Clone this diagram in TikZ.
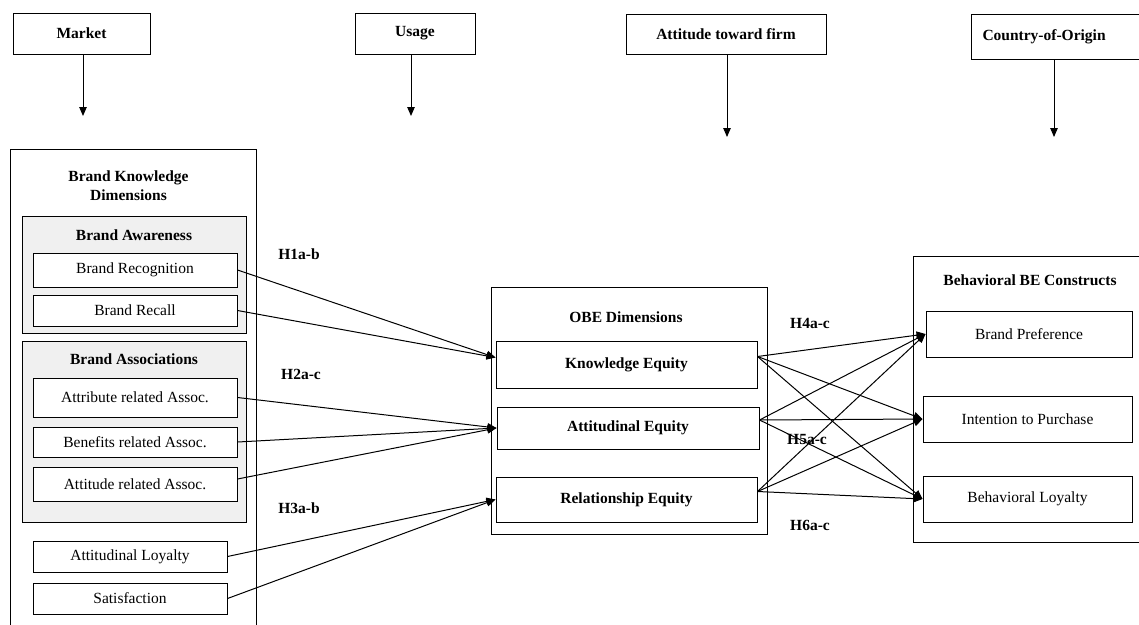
\documentclass[tikz,border=0pt]{standalone}
\usepackage{fontspec}
\setmainfont{Liberation Serif}
\usetikzlibrary{arrows.meta}

\tikzset{
  kasten/.style = {draw, fill=white, inner sep=2pt, font=\fontsize{15.5}{19}\selectfont},
  kopf/.style   = {kasten, font=\fontsize{15.5}{19}\selectfont\bfseries},
  rahmen/.style = {draw, fill=white},
  gruppe/.style = {draw, fill=black!6},
  titel/.style  = {font=\fontsize{15.5}{19}\selectfont\bfseries, align=center, inner sep=0pt},
  hypo/.style   = {font=\fontsize{15.5}{19}\selectfont\bfseries, inner sep=0pt},
  pfeil/.style  = {-{Triangle[length=9pt,width=7.5pt]}},
}

\begin{document}
\begin{tikzpicture} [x=1pt, y=-1pt, line width=1pt]
  \clip (0, 0) rectangle (1139, 624);

  % Moderatoren oben
  \node[kopf, minimum width=137pt, minimum height=41pt] (market) at (81.5, 33.5) {Market};
  \node[kopf, minimum width=120pt, minimum height=41pt] (usage)  at (415, 33.5)  {Usage};
  \node[kopf, minimum width=200pt, minimum height=40pt] (firm)   at (726, 34)    {Attitude toward firm};
  \node[kopf, anchor=north west, minimum width=180pt, minimum height=45pt,
        text width=160pt, align=left, inner xsep=11pt] (origin) at (971, 14) {Country-of-Origin};

  \coordinate (marketend) at (83, 116);
  \coordinate (usageend)  at (411, 116);
  \coordinate (firmend)   at (727, 137);
  \coordinate (originend) at (1054, 137);

  \draw[pfeil] (market.south -| marketend) -- (marketend);
  \draw[pfeil] (usage.south -| usageend)   -- (usageend);
  \draw[pfeil] (firm.south -| firmend)     -- (firmend);
  \draw[pfeil] (origin.south -| originend) -- (originend);

  % Brand Knowledge Dimensions
  \node[rahmen, anchor=north west, minimum width=246pt, minimum height=500pt] (bk) at (10, 149) {};
  \node[titel] (bktitel) at (128.5, 185.5) {Brand Knowledge\\Dimensions};

  \node[gruppe, minimum width=224pt, minimum height=117pt] (aware) at (134, 274.5) {};
  \node[titel] (awaretitel) at (134, 235) {Brand Awareness};
  \node[kasten, minimum width=204pt, minimum height=34pt] (recog)  at (135, 270)   {Brand Recognition};
  \node[kasten, minimum width=204pt, minimum height=31pt] (recall) at (135, 310.5) {Brand Recall};

  \node[gruppe, minimum width=224pt, minimum height=181pt] (assoc) at (134, 431.5) {};
  \node[titel] (assoctitel) at (134, 359) {Brand Associations};
  \node[kasten, minimum width=204pt, minimum height=39pt] (attrib)  at (135, 397.5) {Attribute related Assoc.};
  \node[kasten, minimum width=204pt, minimum height=30pt] (benefit) at (135, 442)   {Benefits related Assoc.};
  \node[kasten, minimum width=204pt, minimum height=34pt] (attit)   at (135, 484)   {Attitude related Assoc.};

  \node[kasten, minimum width=194pt, minimum height=31pt] (loyal) at (130, 556.5) {Attitudinal Loyalty};
  \node[kasten, minimum width=194pt, minimum height=31pt] (satis) at (130, 598.5) {Satisfaction};

  % OBE Dimensions
  \node[rahmen, minimum width=276pt, minimum height=247pt] (obe) at (629, 410.5) {};
  \node[titel] (obetitel) at (626, 317) {OBE Dimensions};
  \node[kopf, minimum width=261pt, minimum height=47pt] (know) at (626.5, 364.5) {Knowledge Equity};
  \node[kopf, minimum width=262pt, minimum height=42pt] (att)  at (628, 428)     {Attitudinal Equity};
  \node[kopf, minimum width=261pt, minimum height=45pt] (rel)  at (626.5, 499.5) {Relationship Equity};

  % Behavioral BE Constructs
  \node[rahmen, anchor=north west, minimum width=240pt, minimum height=286pt] (beh) at (913, 256) {};
  \node[titel] (behtitel) at (1030, 280) {Behavioral BE Constructs};
  \node[kasten, minimum width=206pt, minimum height=46pt] (pref)   at (1029, 334)   {Brand Preference};
  \node[kasten, minimum width=209pt, minimum height=46pt] (intent) at (1027.5, 419) {Intention to Purchase};
  \node[kasten, minimum width=209pt, minimum height=46pt] (bloyal) at (1027.5, 499) {Behavioral Loyalty};

  % Hypothesen links
  \draw[pfeil] (recog.east)  -- ([yshift=7pt]know.west);
  \draw[pfeil] (recall.east) -- ([yshift=7pt]know.west);
  \draw[pfeil] (attrib.east)  -- (att.west);
  \draw[pfeil] (benefit.east) -- (att.west);
  \draw[pfeil] ([yshift=5pt]attit.east) -- (att.west);
  \draw[pfeil] (loyal.east) -- (rel.west);
  \draw[pfeil] (satis.east) -- (rel.west);

  % Hypothesen rechts
  \foreach \von in {know, att, rel}
    \foreach \nach in {pref, intent, bloyal}
      \draw[pfeil] ([yshift=8pt]\von.east) -- (\nach.west);

  % Beschriftungen
  \node[hypo] (h1) at (299, 254) {H1a-b};
  \node[hypo] (h2) at (301, 374) {H2a-c};
  \node[hypo] (h3) at (299, 508) {H3a-b};
  \node[hypo] (h4) at (810, 323) {H4a-c};
  \node[hypo] (h5) at (807, 439) {H5a-c};
  \node[hypo] (h6) at (810, 525) {H6a-c};
\end{tikzpicture}
\end{document}
